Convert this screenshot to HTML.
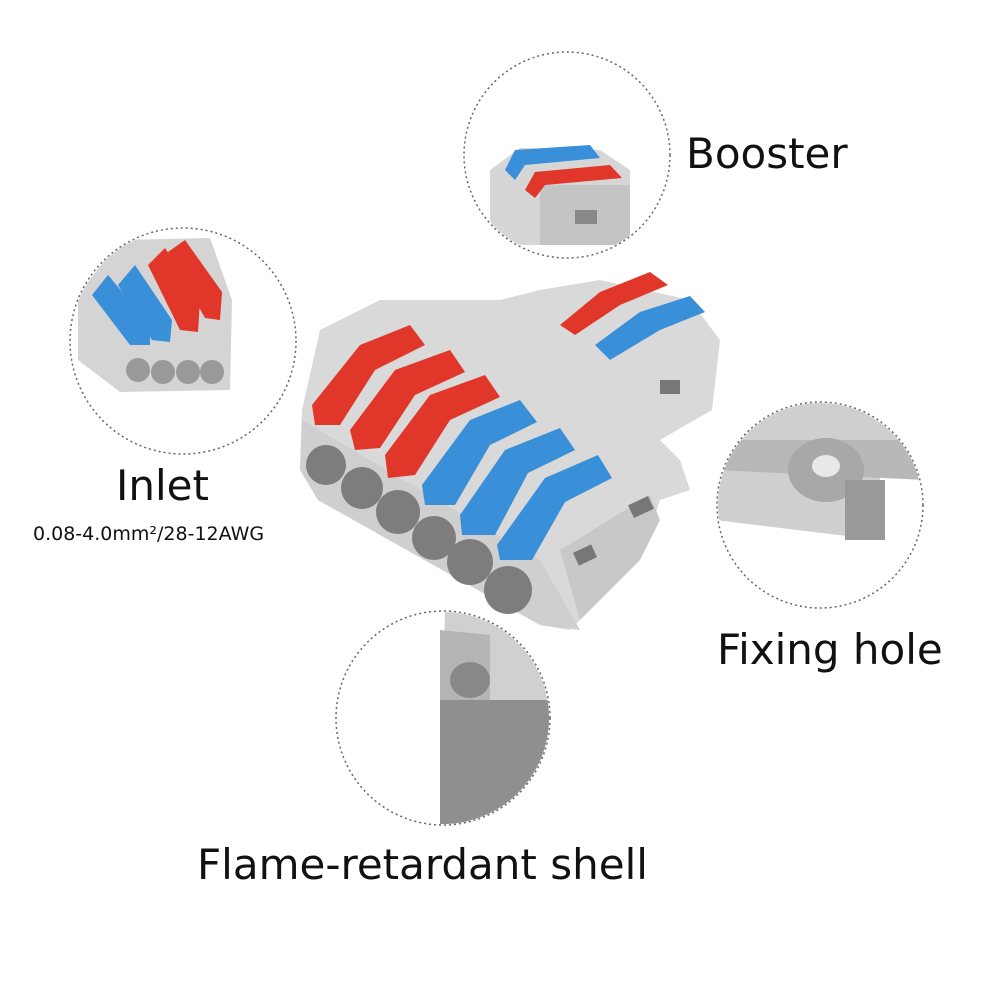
<!DOCTYPE html>
<html><head><meta charset="utf-8"><style>
html,body{margin:0;padding:0;background:#fff;width:1002px;height:1002px;overflow:hidden}
svg{display:block}
text{font-family:"DejaVu Sans","Liberation Sans",sans-serif;fill:#111}
</style></head><body>
<svg width="1002" height="1002" viewBox="0 0 1002 1002">
<defs>
<clipPath id="c1"><circle cx="567" cy="155" r="102"/></clipPath>
<clipPath id="c2"><circle cx="183" cy="341" r="112"/></clipPath>
<clipPath id="c3"><circle cx="820" cy="505" r="102"/></clipPath>
<clipPath id="c4"><circle cx="443" cy="718" r="106"/></clipPath>
</defs>
<g clip-path="url(#c1)">
<path d="M490 170 L520 148 L600 150 L630 170 L630 245 L500 245 L490 220Z" fill="#d6d6d6"/>
<path d="M540 185 L630 185 L630 245 L540 245Z" fill="#c4c4c4"/>
<rect x="575" y="210" width="22" height="14" fill="#888"/>
<path d="M505 170 L515 150 L590 145 L600 158 L525 165 L515 180Z" fill="#3a8fd9"/>
<path d="M525 190 L535 172 L610 165 L622 178 L545 185 L535 198Z" fill="#e0372a"/>
</g>
<g clip-path="url(#c2)">
<path d="M78 295 L120 240 L210 238 L232 300 L230 390 L120 392 L78 360Z" fill="#d4d4d4"/>
<g fill="#999"><circle cx="138" cy="370" r="12"/><circle cx="163" cy="372" r="12"/><circle cx="188" cy="372" r="12"/><circle cx="212" cy="372" r="12"/></g>
<path d="M92 295 L108 275 L150 325 L150 345 L130 345Z" fill="#3a8fd9"/>
<path d="M118 285 L135 265 L172 320 L170 342 L152 340Z" fill="#3a8fd9"/>
<path d="M148 265 L165 248 L200 300 L198 332 L180 330Z" fill="#e0372a"/>
<path d="M168 252 L185 240 L222 292 L220 320 L205 318Z" fill="#e0372a"/>
</g>
<g clip-path="url(#c3)">
<path d="M715 400 L925 400 L925 480 L880 475 L880 540 L715 520Z" fill="#cfcfcf"/>
<path d="M715 440 L925 440 L925 480 L715 470Z" fill="#b8b8b8"/>
<ellipse cx="826" cy="470" rx="38" ry="32" fill="#a8a8a8"/>
<ellipse cx="826" cy="466" rx="14" ry="11" fill="#e8e8e8"/>
<rect x="845" y="480" width="40" height="60" fill="#999"/>
</g>
<g clip-path="url(#c4)">
<path d="M445 610 L555 610 L555 830 L440 830Z" fill="#d0d0d0"/>
<rect x="440" y="700" width="115" height="130" fill="#8f8f8f"/>
<path d="M440 630 L490 635 L490 700 L440 700Z" fill="#b5b5b5"/>
<ellipse cx="470" cy="680" rx="20" ry="18" fill="#888"/>
</g>
<g fill="none" stroke="#666" stroke-width="1.5" stroke-dasharray="2 3">
<circle cx="567" cy="155" r="103"/>
<circle cx="183" cy="341" r="113"/>
<circle cx="820" cy="505" r="103"/>
<circle cx="443" cy="718" r="107"/>
</g>
<g>
<path d="M540 290 L600 280 L690 300 L720 340 L712 410 L660 440 L680 460 L690 490 L660 500 L640 560 L570 630 L540 625 L318 500 L300 470 L302 410 L320 330 L380 300 L500 300Z" fill="#d9d9d9"/>
<path d="M302 420 L540 560 L580 630 L540 625 L318 500 L300 470Z" fill="#cfcfcf"/>
<path d="M560 550 L650 495 L660 520 L640 560 L580 620Z" fill="#c8c8c8"/>
<rect x="630" y="500" width="22" height="14" fill="#777" transform="rotate(-25 641 507)"/>
<rect x="575" y="548" width="20" height="14" fill="#777" transform="rotate(-25 585 555)"/>
<rect x="660" y="380" width="20" height="14" fill="#777"/>
<g fill="#7d7d7d">
<circle cx="326" cy="465" r="20"/><circle cx="362" cy="488" r="21"/><circle cx="398" cy="512" r="22"/>
<circle cx="434" cy="538" r="22"/><circle cx="470" cy="562" r="23"/><circle cx="508" cy="590" r="24"/>
</g>
<path d="M560 325 L600 292 L650 272 L668 285 L620 305 L575 335Z" fill="#e0372a"/>
<path d="M595 345 L640 312 L690 296 L705 312 L660 330 L610 360Z" fill="#3a8fd9"/>
<path d="M312 405 L360 345 L410 325 L425 345 L375 370 L340 425 L315 425Z" fill="#e0372a"/>
<path d="M350 430 L395 370 L450 350 L465 372 L415 395 L380 448 L355 450Z" fill="#e0372a"/>
<path d="M385 455 L430 395 L485 375 L500 397 L450 420 L415 475 L388 478Z" fill="#e0372a"/>
<path d="M422 485 L470 420 L520 400 L537 422 L490 445 L455 505 L425 505Z" fill="#3a8fd9"/>
<path d="M460 515 L505 450 L560 428 L575 450 L528 473 L495 535 L462 535Z" fill="#3a8fd9"/>
<path d="M497 545 L545 478 L598 455 L612 478 L565 502 L532 560 L500 560Z" fill="#3a8fd9"/>
</g>
<text x="686" y="168" font-size="42">Booster</text>
<text x="116" y="500" font-size="42">Inlet</text>
<text x="33" y="540" font-size="19">0.08-4.0mm²/28-12AWG</text>
<text x="717" y="664" font-size="42">Fixing hole</text>
<text x="197" y="879" font-size="42">Flame-retardant shell</text>
</svg>
</body></html>
